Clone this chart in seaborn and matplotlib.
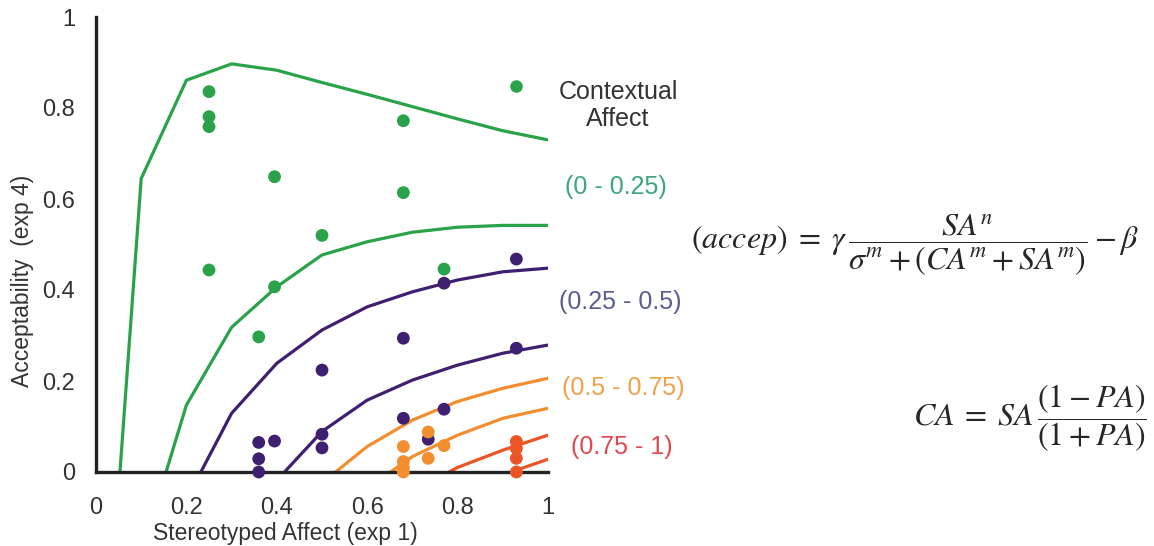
import numpy as np
import pandas as pd
import matplotlib
matplotlib.use('Agg')
import matplotlib.pyplot as plt
import seaborn as sns

# ---------------- data ----------------
green_x = [0.25, 0.25, 0.25, 0.25, 0.36, 0.395, 0.395, 0.50, 0.68, 0.68, 0.77]
green_y = [0.836, 0.781, 0.759, 0.444, 0.297, 0.649, 0.407, 0.520, 0.772, 0.614, 0.446]

purple_x = [0.36, 0.36, 0.36, 0.395, 0.50, 0.50, 0.50, 0.68, 0.68, 0.735, 0.77, 0.77, 0.93, 0.93]
purple_y = [0.065, 0.029, 0.0, 0.068, 0.224, 0.083, 0.053, 0.294, 0.118, 0.072, 0.415, 0.138, 0.468, 0.272]

orange_x = [0.68, 0.68, 0.68, 0.68, 0.735, 0.735, 0.77]
orange_y = [0.056, 0.023, 0.010, 0.0, 0.088, 0.030, 0.058]

red_x = [0.93, 0.93, 0.93, 0.93]
red_y = [0.067, 0.052, 0.030, 0.0]

# model curves, one per PA value
curve_x = {
    'g1': [0.053, 0.1, 0.2, 0.3, 0.4, 0.5, 0.6, 0.7, 0.8, 0.9, 1.0],
    'g2': [0.155, 0.2, 0.3, 0.4, 0.5, 0.6, 0.7, 0.8, 0.9, 1.0],
    'p1': [0.232, 0.3, 0.4, 0.5, 0.6, 0.7, 0.8, 0.9, 1.0],
    'p2': [0.417, 0.5, 0.6, 0.7, 0.8, 0.9, 1.0],
    'o1': [0.53, 0.6, 0.7, 0.8, 0.9, 1.0],
    'o2': [0.652, 0.7, 0.8, 0.9, 1.0],
    'r1': [0.781, 0.8, 0.9, 1.0],
    'r2': [0.918, 1.0],
}
curve_y = {
    'g1': [0.0, 0.645, 0.861, 0.897, 0.883, 0.856, 0.830, 0.803, 0.776, 0.750, 0.730],
    'g2': [0.0, 0.147, 0.318, 0.407, 0.477, 0.506, 0.527, 0.538, 0.542, 0.542],
    'p1': [0.0, 0.129, 0.239, 0.312, 0.363, 0.396, 0.422, 0.440, 0.448],
    'p2': [0.0, 0.089, 0.158, 0.202, 0.235, 0.261, 0.279],
    'o1': [0.0, 0.056, 0.114, 0.155, 0.184, 0.206],
    'o2': [0.0, 0.034, 0.081, 0.118, 0.140],
    'r1': [0.0, 0.010, 0.048, 0.081],
    'r2': [0.0, 0.028],
}
range_labels = ['(0 - 0.25)', '(0.25 - 0.5)', '(0.5 - 0.75)', '(0.75 - 1)']

GREEN = '#2aa24a'
PURPLE = '#3f2070'
ORANGE = '#f28e2f'
RED = '#ec5425'
curve_col = {'g': GREEN, 'p': PURPLE, 'o': ORANGE, 'r': RED}
label_col = ['#3da57c', '#5a5c96', '#f3a04a', '#e2474f']

pts = pd.concat([
    pd.DataFrame({'SA': green_x, 'acc': green_y, 'grp': 'g'}),
    pd.DataFrame({'SA': purple_x, 'acc': purple_y, 'grp': 'p'}),
    pd.DataFrame({'SA': orange_x, 'acc': orange_y, 'grp': 'o'}),
    pd.DataFrame({'SA': red_x, 'acc': red_y, 'grp': 'r'}),
], ignore_index=True)

sns.set_style('white')
plt.rcParams['font.family'] = ['Liberation Sans', 'DejaVu Sans']
plt.rcParams['mathtext.fontset'] = 'stix'

fig = plt.figure(figsize=(11.54, 5.46), dpi=100)
ax = fig.add_axes([96 / 1154, 74 / 546, 452 / 1154, 455 / 546])

for k in curve_x:
    sns.lineplot(x=curve_x[k], y=curve_y[k], ax=ax, color=curve_col[k[0]],
                 lw=2.3, sort=False, estimator=None, zorder=2)

sns.scatterplot(data=pts, x='SA', y='acc', hue='grp', palette=curve_col,
                s=85, edgecolor='none', legend=False, ax=ax, zorder=3, clip_on=False)

ax.set_xlim(0, 1)
ax.set_ylim(0, 1)
ticks = [0, 0.2, 0.4, 0.6, 0.8, 1]
ax.set_xticks(ticks, ['0', '0.2', '0.4', '0.6', '0.8', '1'])
ax.set_yticks(ticks, ['0', '0.2', '0.4', '0.6', '0.8', '1'])
ax.tick_params(direction='out', length=6, width=2.2, color='#222222',
               labelsize=17, labelcolor='#333333', pad=9)
ax.tick_params(axis='x', pad=12)
sns.despine(ax=ax)
for s in ['left', 'bottom']:
    ax.spines[s].set_linewidth(2.4)
    ax.spines[s].set_color('#222222')

ax.set_xlabel('Stereotyped Affect (exp 1)', fontsize=16.5, color='#333333')
ax.set_ylabel('Acceptability  (exp 4)', fontsize=16.5, color='#333333')
ax.xaxis.set_label_coords(0.42, -0.11)
ax.yaxis.set_label_coords(-0.138, 0.42)

# legend-like annotations
ax.plot([0.93], [0.848], 'o', color=GREEN, ms=8, zorder=3)
ax.text(1.155, 0.805, 'Contextual\nAffect', ha='center', va='center', fontsize=18,
        color='#333333', linespacing=1.15, clip_on=False)
label_x = [1.150, 1.159, 1.166, 1.164]
label_y = [0.626, 0.374, 0.185, 0.055]
for t, c, xx, yy in zip(range_labels, label_col, label_x, label_y):
    ax.text(xx, yy, t, ha='center', va='center', fontsize=18, color=c, clip_on=False)

fig.text(915 / 1154, 1 - 245 / 546,
         r'$(accep)\;=\;\gamma\,\dfrac{SA^n}{\sigma^m + (CA^m + SA^m)} - \beta$',
         ha='center', va='center', fontsize=23)
fig.text(1147 / 1154, 1 - 418 / 546,
         r'$CA\;=\;SA\,\dfrac{(1 - PA)}{(1 + PA)}$',
         ha='right', va='center', fontsize=23)

fig.savefig('out.png', dpi=100, facecolor='white')
